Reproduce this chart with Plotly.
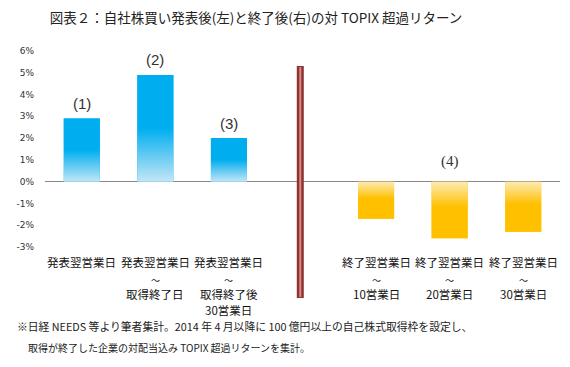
import plotly.graph_objects as go

# ---- data ----
positions = [0, 1, 2, 4, 5, 6]
values = [2.9, 4.9, 2.0, -1.7, -2.6, -2.3]
tick_labels = [
    ["発表翌営業日"],
    ["発表翌営業日", "～", "取得終了日"],
    ["発表翌営業日", "～", "取得終了後", "30営業日"],
    ["終了翌営業日", "～", "10営業日"],
    ["終了翌営業日", "～", "20営業日"],
    ["終了翌営業日", "～", "30営業日"],
]
bar_notes = ["(1)", "(2)", "(3)"]
group_note = "(4)"
y_ticks = [-3, -2, -1, 0, 1, 2, 3, 4, 5, 6]
y_tick_text = [f"{v}%" for v in y_ticks]
title_text = "図表２：自社株買い発表後(左)と終了後(右)の対 TOPIX 超過リターン"
footnote1 = "※日経 NEEDS 等より筆者集計。2014 年 4 月以降に 100 億円以上の自己株式取得枠を設定し、"
footnote2 = "取得が終了した企業の対配当込み TOPIX 超過リターンを集計。"

BLUE = "#00AEEF"
BLUE_PALE = "#C4E6F5"
ORANGE = "#FFC000"
ORANGE_PALE = "#FDEBB5"
BW = 0.49

# page body adds an 8px margin, so the figure is sized to fit the window
W, H = 554, 351
ML, MT, MR, MB = 37, 43, 2, 112
PH = H - MT - MB

fig = go.Figure()

colors = [BLUE if v > 0 else ORANGE for v in values]
fig.add_trace(go.Bar(x=positions, y=values, width=BW, marker=dict(color=colors, line=dict(width=0)),
                     showlegend=False, hoverinfo="skip"))

# gradient overlays (same geometry as bars)
for x, v in zip(positions, values):
    solid = BLUE if v > 0 else ORANGE
    pale = BLUE_PALE if v > 0 else ORANGE_PALE
    lo, hi = min(0, v), max(0, v)
    if v > 0:
        cs = [[0, pale], [0.5, solid], [1, solid]]
    else:
        cs = [[0, solid], [0.55, solid], [1, pale]]
    fig.add_trace(go.Scatter(
        x=[x - BW / 2, x + BW / 2, x + BW / 2, x - BW / 2, x - BW / 2],
        y=[0, 0, v, v, 0],
        mode="none", fill="toself",
        fillgradient=dict(type="vertical", colorscale=cs, start=lo, stop=hi),
        showlegend=False, hoverinfo="skip"))

annotations = []
for x, v, t in zip(positions[:3], values[:3], bar_notes):
    annotations.append(dict(x=x, y=v, text=t, showarrow=False, yanchor="middle", yshift=15,
                            font=dict(size=15, color="#333333", family="Liberation Sans")))
annotations.append(dict(x=positions[4], y=0, text=group_note, showarrow=False, yanchor="middle",
                        yshift=20, font=dict(size=15, color="#333333", family="Liberation Serif")))

# category labels, one annotation per line
first_line_px = 15   # px below plot bottom for first line centre
line_step_px = 16
for x, lines in zip(positions, tick_labels):
    for k, line in enumerate(lines):
        ypx = first_line_px + k * line_step_px
        is_tilde = line == "～"
        annotations.append(dict(x=x, y=-ypx / PH, xref="x", yref="paper", text=line, showarrow=False,
                                xanchor="center", yanchor="middle",
                                yshift=-2 if is_tilde else 0,
                                font=dict(size=9 if is_tilde else 11.5, color="#111111",
                                          family="Noto Sans CJK JP")))

annotations.append(dict(x=-0.058, y=-0.405, xref="paper", yref="paper", text=footnote1, showarrow=False,
                        xanchor="left", yanchor="middle",
                        font=dict(size=10.8, color="#222222", family="Noto Sans CJK JP")))
annotations.append(dict(x=-0.037, y=-0.515, xref="paper", yref="paper", text=footnote2, showarrow=False,
                        xanchor="left", yanchor="middle",
                        font=dict(size=10, color="#222222", family="Noto Sans CJK JP")))

shapes = [
    dict(type="line", xref="x", yref="paper", x0=2.97, x1=2.97, y0=-0.26, y1=0.923,
         line=dict(color="#8E3232", width=7), layer="above"),
    dict(type="line", xref="x", yref="paper", x0=2.97, x1=2.97, y0=-0.255, y1=0.918,
         line=dict(color="#D98C8C", width=2), layer="above"),
]

fig.update_layout(
    width=W, height=H,
    margin=dict(l=ML, r=MR, t=MT, b=MB, autoexpand=False),
    paper_bgcolor="white", plot_bgcolor="white",
    title=dict(text=title_text, x=0.4477, xanchor="center", y=1 - 10.5 / H, yanchor="middle",
               font=dict(size=13.5, color="#222222", family="Noto Sans CJK JP")),
    xaxis=dict(range=[-0.5, 6.5], tickvals=positions, showticklabels=False, showgrid=False,
               zeroline=False, showline=False, ticks=""),
    yaxis=dict(range=[-3, 6], tickvals=y_ticks, ticktext=y_tick_text, showgrid=False,
               zeroline=True, zerolinecolor="#888888", zerolinewidth=1, showline=False,
               ticks="", ticklabelstandoff=10,
               tickfont=dict(size=9, color="#333333", family="DejaVu Sans")),
    annotations=annotations, shapes=shapes, bargap=0.5,
)

fig.write_html("out.html")
